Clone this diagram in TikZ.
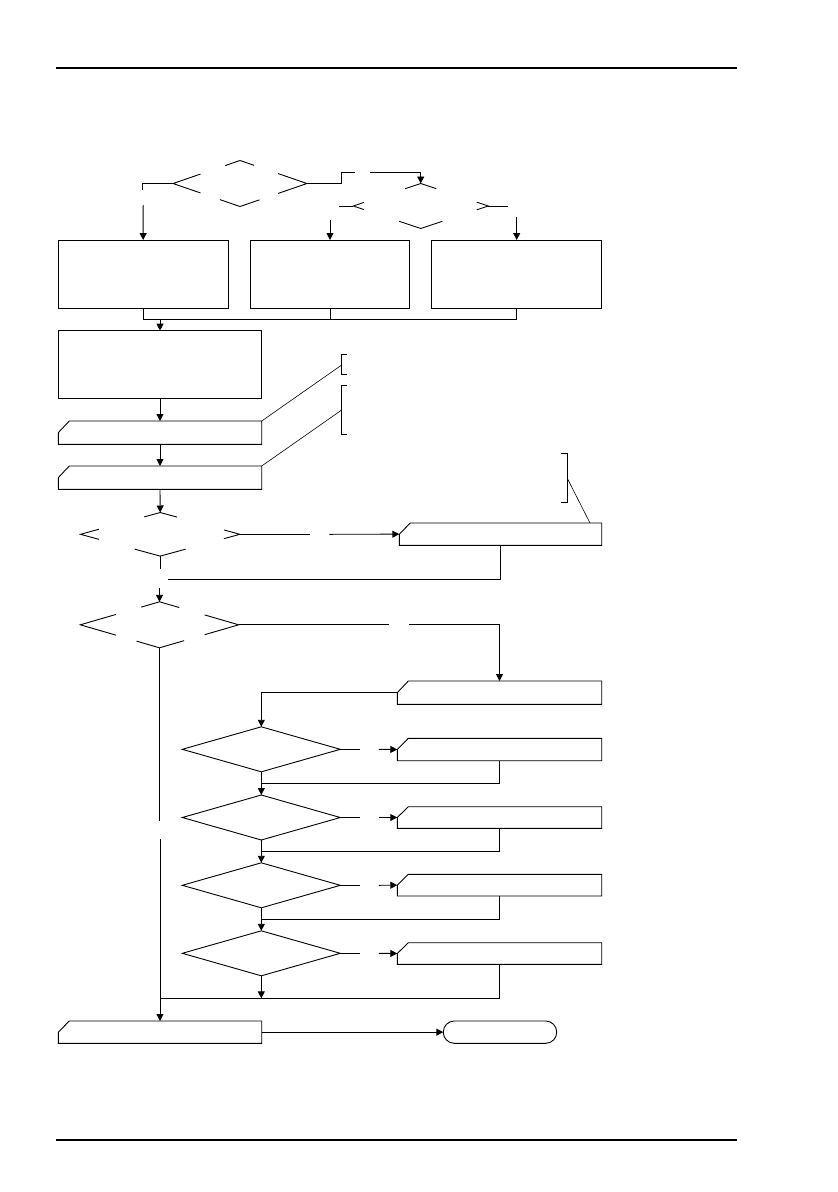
\documentclass[tikz,border=0pt]{standalone}
\usetikzlibrary{arrows.meta,shapes.geometric,fit,calc}
\newcommand\dcorner[6]{\draw[ln] ($(#1.#2)!#4!(#1.#3)$) -- (#1.#2) -- ($(#1.#2)!#6!(#1.#5)$);}
\newcommand\cardshape[1]{\draw[ln] (#1.west) -- ([xshift=11pt]#1.north west) -- (#1.north east) -- (#1.south east) -- (#1.south west) -- cycle;}
\newcommand\mkcard[5]{\node[cardnode, fit={(#2,#3) (#4,#5)}] (#1) {};\cardshape{#1}}
\begin{document}
\begin{tikzpicture}[x=1pt,y=-1pt,
  ln/.style={line width=0.9pt, line join=miter},
  note/.style={line width=0.6pt},
  arr/.style={ln,-{Triangle[length=7pt,width=7pt]}},
  box/.style={draw, ln, inner sep=0pt, outer sep=0pt},
  cardnode/.style={inner sep=0pt, outer sep=0pt},
  dsmall/.style={diamond, inner sep=0pt, outer sep=0pt, minimum width=134pt, minimum height=46pt},
  dbig/.style={diamond, inner sep=0pt, outer sep=0pt, minimum width=158pt, minimum height=45pt},
  term/.style={draw, ln, rounded corners=11pt, inner sep=0pt, outer sep=0pt, minimum width=113.4pt, minimum height=22.3pt}
]
\useasboundingbox (0,0) rectangle (838,1192);
% page rules
\coordinate (h1) at (56,68); \coordinate (h2) at (737,68);
\coordinate (f1) at (56,1140); \coordinate (f2) at (737,1140);
\draw[line width=1.3pt] (h1) -- (h2);
\draw[line width=1.3pt] (f1) -- (f2);

% top decisions (labels erased -> fragments)
\node[dsmall] (d1) at (240,183.5) {};
\dcorner{d1}{west}{north}{0.41}{south}{0.41}
\dcorner{d1}{east}{north}{0.43}{south}{0.43}
\dcorner{d1}{north}{west}{0.22}{east}{0.21}
\dcorner{d1}{south}{west}{0.30}{east}{0.29}

\node[dsmall, minimum width=135pt, minimum height=45pt] (d2) at (420.7,206) {};
\dcorner{d2}{west}{north}{0.16}{south}{0.16}
\dcorner{d2}{east}{north}{0.17}{south}{0.17}
\dcorner{d2}{north}{west}{0.23}{east}{0.23}
\dcorner{d2}{south}{west}{0.32}{east}{0.32}

% first row of boxes
\node[box, fit={(58,240) (228.3,308.3)}] (A) {};
\node[box, fit={(250.7,240) (409.3,308.3)}] (B) {};
\node[box, fit={(431.7,240) (601.7,308.3)}] (C) {};
\node[box, fit={(58.3,330.7) (261.7,398.3)}] (D) {};

% connectors from top decisions
\coordinate (a1) at (142.7,183.5); \coordinate (a2) at (142.7,190);
\draw[ln] (d1.west) -- (a1) -- (a2);
\coordinate (a3) at (143.2,205);
\draw[arr] (a3) -- (A.north);
\coordinate (b1) at (341.7,183.5); \coordinate (b2) at (341.7,172); \coordinate (b3) at (355,172);
\draw[ln] (d1.east) -- (b1) -- (b2) -- (b3);
\coordinate (b4) at (370,172);
\draw[arr] (b4) -| (d2.north);
\coordinate (c1) at (339.3,206);
\draw[ln] (d2.west) -- (c1);
\coordinate (c2) at (330,220);
\draw[arr] (c2) -- (B.north);
\coordinate (e1) at (508.3,206);
\draw[ln] (d2.east) -- (e1);
\coordinate (e2) at (516.7,216.7);
\draw[arr] (e2) -- (C.north);

% join below first row
\coordinate (j) at (160,319);
\draw[ln] (A.south) -- (A.south |- j) -- (C.south |- j) -- (C.south);
\draw[ln] (B.south) -- (B.south |- j);
\draw[arr] (j) -- (D.north);

% cards E, F
\mkcard{E}{58.3}{421}{261.7}{444.3}
\mkcard{F}{58.3}{466}{261.7}{489.3}
\draw[arr] (D.south) -- (E.north);
\draw[arr] (E.south) -- (F.north);

% annotation brackets
\coordinate (k1a) at (346.7,354.3); \coordinate (k1b) at (341.7,354.3);
\coordinate (k1c) at (341.7,374.3); \coordinate (k1d) at (346.7,374.3);
\coordinate (k1m) at (341.7,365);
\draw[note] (k1a) -- (k1b) -- (k1c) -- (k1d);
\draw[note] (E.north east) -- (k1m);
\coordinate (k2a) at (346.7,385); \coordinate (k2b) at (341.7,385);
\coordinate (k2c) at (341.7,434.3); \coordinate (k2d) at (346.7,434.3);
\coordinate (k2m) at (341.7,410);
\draw[note] (k2a) -- (k2b) -- (k2c) -- (k2d);
\draw[note] (F.north east) -- (k2m);

% decision 3 and card G
\node[dbig, minimum width=159.4pt, minimum height=43.6pt] (d3) at (160.2,534.3) {};
\dcorner{d3}{west}{north}{0.23}{south}{0.23}
\dcorner{d3}{east}{north}{0.2}{south}{0.2}
\dcorner{d3}{north}{west}{0.2}{east}{0.21}
\dcorner{d3}{south}{west}{0.32}{east}{0.32}
\draw[arr] (F.south) -- (d3.north);
\mkcard{G}{399.3}{523}{601.7}{545.3}
\coordinate (k3a) at (561,453.3); \coordinate (k3b) at (567.3,453.3);
\coordinate (k3c) at (567.3,502.3); \coordinate (k3d) at (561,502.3);
\coordinate (k3m) at (567.3,478.3); \coordinate (k3e) at (590,523);
\draw[note] (k3a) -- (k3b) -- (k3c) -- (k3d);
\draw[note] (k3m) -- (k3e);
\coordinate (g1) at (310.2,534.3);
\draw[ln] (d3.east) -- (g1);
\coordinate (g2) at (329.3,534.3);
\draw[arr] (g2) -- (G.west);
\coordinate (g3) at (160.2,569.3);
\draw[ln] (d3.south) -- (g3);
\coordinate (g4) at (168.4,579.3);
\draw[ln] (G.south) |- (g4);

% decision 4
\node[dbig, minimum width=158.4pt, minimum height=46pt] (d4) at (159.5,624.8) {};
\dcorner{d4}{west}{north}{0.45}{south}{0.45}
\dcorner{d4}{east}{north}{0.43}{south}{0.43}
\dcorner{d4}{north}{west}{0.23}{east}{0.25}
\dcorner{d4}{south}{west}{0.29}{east}{0.31}
\coordinate (g5) at (159.5,588.3);
\draw[arr] (g5) -- (d4.north);

\mkcard{H}{397.3}{681}{601.7}{704.3}
\coordinate (h3) at (389.2,624.8);
\draw[ln] (d4.east) -- (h3);
\coordinate (h4) at (409,624.8);
\draw[arr] (h4) -| (H.north);

% chain of checks
\node[dbig] (d5) at (261.3,749.3) {};
\node[dbig] (d6) at (261.3,817.5) {};
\node[dbig] (d7) at (261.3,885.3) {};
\node[dbig] (d8) at (261.3,953.3) {};
\foreach \d in {d5,d6,d7,d8} {\draw[ln] (\d.north) -- (\d.east) -- (\d.south) -- (\d.west) -- cycle;}
\draw[arr] (H.west) -| (d5.north);

\mkcard{I}{397.3}{738.3}{601.7}{760.7}
\mkcard{J}{397.3}{806.7}{601.7}{828.3}
\mkcard{K}{397.3}{874.3}{601.7}{896}
\mkcard{L}{397.3}{942.7}{601.7}{964.3}

\foreach \d/\c in {d5/I,d6/J,d7/K,d8/L} {
  \coordinate (\d r1) at ($(\d.east)+(19.3,0)$);
  \coordinate (\d r2) at ($(\d.east)+(38.6,0)$);
  \draw[ln] (\d.east) -- (\d r1);
  \draw[arr] (\d r2) -- (\c.west);
}
\coordinate (m5) at (261.3,783.3);
\coordinate (m6) at (261.3,851.7);
\coordinate (m7) at (261.3,919.7);
\draw[ln] (I.south) |- (m5);
\draw[ln] (J.south) |- (m6);
\draw[ln] (K.south) |- (m7);
\draw[arr] (d5.south) -- (d6.north);
\draw[arr] (d6.south) -- (d7.north);
\draw[arr] (d7.south) -- (d8.north);

% bottom
\mkcard{M}{58.3}{1021}{261.7}{1043.3}
\node[term, anchor=west] (T) at (443.3,1032.15) {};
\coordinate (m8) at (261.3,998.3);
\draw[arr] (d8.south) -- (m8);
\coordinate (m9) at (160,998.3);
\draw[ln] (L.south) |- (m9);
\coordinate (v1) at (159.5,820.7);
\draw[ln] (d4.south) -- (v1);
\coordinate (v2) at (160,839);
\draw[arr] (v2) -- (M.north);
\draw[arr] (M.east) -- (M.east -| T.west);
\end{tikzpicture}
\end{document}
